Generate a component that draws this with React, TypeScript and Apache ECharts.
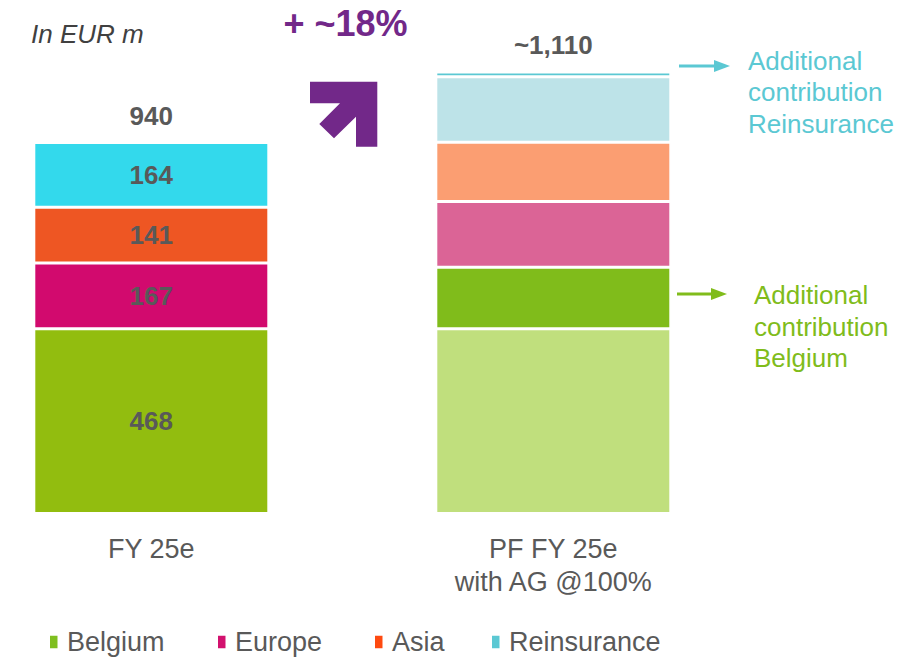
import React, { useEffect, useRef } from "react";
import * as echarts from "echarts";

const categories = ["FY 25e", "PF FY 25e\nwith AG @100%"];
const belgium = [468, 468];
const belgiumAdditional = [null, 156];
const europe = [167, 167];
const asia = [141, 150];
const reinsurance = [164, 166];
const reinsuranceAdditional = [null, 12];
const totalLabels = ["940", "~1,110"];
const legendNames = ["Belgium", "Europe", "Asia", "Reinsurance"];

const FONT = "'Liberation Sans', Arial, sans-serif";
const GREY = "#595959";

const leftColors = {
  belgium: "#92bd0f",
  europe: "#d20a6e",
  asia: "#ee5623",
  reinsurance: "#33d9ec",
};
const rightColors = {
  belgium: "#c0df7d",
  belgiumAdd: "#80bc1b",
  europe: "#db6496",
  asia: "#fb9e72",
  reinsurance: "#bde3e8",
  reinsuranceAdd: "#5bc8d3",
};

function items(values: (number | null)[], left: string, right: string, showLeftLabel: boolean) {
  return values.map((v, i) => {
    if (v === null) return "-";
    return {
      value: v,
      itemStyle: { color: i === 0 ? left : right },
      label: { show: i === 0 && showLeftLabel },
    };
  });
}

export default function App() {
  const ref = useRef<HTMLDivElement>(null);
  useEffect(() => {
    if (!ref.current) return;
    const chart = echarts.init(ref.current, undefined, { renderer: "svg" });
    const insideLabel = {
      position: "inside",
      color: GREY,
      fontSize: 26,
      fontWeight: "bold",
      fontFamily: FONT,
    };
    const common = {
      type: "bar",
      stack: "total",
      barWidth: 235,
      itemStyle: { borderColor: "#ffffff", borderWidth: 1.5 },
    };
    const legendLefts = [43, 211, 368, 485];
    const option = {
      animation: false,
      grid: { left: 151.3, right: 363.7, top: 40, bottom: 146.5, containLabel: false },
      xAxis: {
        type: "category",
        data: categories,
        boundaryGap: false,
        axisLine: { show: false },
        axisTick: { show: false },
        axisLabel: {
          interval: 0,
          color: GREY,
          fontSize: 27,
          fontFamily: FONT,
          lineHeight: 33,
          margin: 19,
        },
      },
      yAxis: { type: "value", min: 0, max: 1200, show: false },
      legend: legendNames.map((n, i) => ({
        data: [n],
        left: legendLefts[i],
        top: 622,
        selectedMode: false,
        icon: "rect",
        itemWidth: 9.5,
        itemHeight: 14.5,
        textStyle: { color: GREY, fontSize: 27, fontFamily: FONT, lineHeight: 30, padding: [0, 0, 0, 3.5] },
      })),
      series: [
        {
          ...common,
          name: "Belgium",
          color: "#7fbf1f",
          data: items(belgium, leftColors.belgium, rightColors.belgium, true),
          label: insideLabel,
        },
        {
          ...common,
          name: "Belgium additional",
          color: rightColors.belgiumAdd,
          data: items(belgiumAdditional, rightColors.belgiumAdd, rightColors.belgiumAdd, false),
        },
        {
          ...common,
          name: "Europe",
          color: "#d2116e",
          data: items(europe, leftColors.europe, rightColors.europe, true),
          label: insideLabel,
        },
        {
          ...common,
          name: "Asia",
          color: "#fe4a10",
          data: items(asia, leftColors.asia, rightColors.asia, true),
          label: insideLabel,
        },
        {
          ...common,
          name: "Reinsurance",
          color: "#5bc8d3",
          data: items(reinsurance, leftColors.reinsurance, rightColors.reinsurance, true),
          label: insideLabel,
        },
        {
          ...common,
          name: "Reinsurance additional",
          color: rightColors.reinsuranceAdd,
          data: items(reinsuranceAdditional, rightColors.reinsuranceAdd, rightColors.reinsuranceAdd, false),
        },
        {
          ...common,
          name: "Total",
          itemStyle: { color: "transparent", borderWidth: 0 },
          data: totalLabels.map(() => 0),
          label: {
            show: true,
            position: "top",
            distance: 14,
            color: GREY,
            fontSize: 26,
            fontWeight: "bold",
            fontFamily: FONT,
            formatter: (p: any) => totalLabels[p.dataIndex],
          },
        },
      ],
      graphic: [
        {
          type: "text",
          left: 31,
          top: 21,
          style: {
            text: "In EUR m",
            fontSize: 26,
            fontStyle: "italic",
            fontFamily: FONT,
            fill: "#404040",
          },
        },
        {
          type: "text",
          x: 345.5,
          y: 23,
          style: {
            text: "+ ~18%",
            fontSize: 36,
            fontWeight: "bold",
            fontFamily: FONT,
            fill: "#722889",
            align: "center",
            verticalAlign: "middle",
          },
        },
        {
          type: "polygon",
          shape: {
            points: [
              [310, 81.7],
              [377.3, 81.7],
              [377.3, 146.7],
              [356, 146.7],
              [356, 116.7],
              [334, 138.3],
              [319.3, 124],
              [340, 103.3],
              [310, 103.3],
            ],
          },
          style: { fill: "#722889" },
        },
        {
          type: "line",
          shape: { x1: 679, y1: 66, x2: 716, y2: 66 },
          style: { stroke: "#5bc8d3", lineWidth: 3 },
        },
        {
          type: "polygon",
          shape: { points: [[714, 60], [730, 66], [714, 72]] },
          style: { fill: "#5bc8d3" },
        },
        {
          type: "line",
          shape: { x1: 677, y1: 294, x2: 713, y2: 294 },
          style: { stroke: "#80bc1b", lineWidth: 3 },
        },
        {
          type: "polygon",
          shape: { points: [[711, 288], [727, 294], [711, 300]] },
          style: { fill: "#80bc1b" },
        },
        {
          type: "text",
          x: 748,
          y: 92,
          style: {
            text: "Additional\ncontribution\nReinsurance",
            fontSize: 26,
            lineHeight: 31.5,
            fontFamily: FONT,
            fill: "#5bc8d3",
            verticalAlign: "middle",
          },
        },
        {
          type: "text",
          x: 754,
          y: 326.5,
          style: {
            text: "Additional\ncontribution\nBelgium",
            fontSize: 26,
            lineHeight: 31.5,
            fontFamily: FONT,
            fill: "#80bc1b",
            verticalAlign: "middle",
          },
        },
      ],
    };
    chart.setOption(option as any);
    return () => chart.dispose();
  }, []);
  return (
    <div
      ref={ref}
      style={{ position: "fixed", left: 0, top: 0, width: 917, height: 660, background: "#fff" }}
    />
  );
}
